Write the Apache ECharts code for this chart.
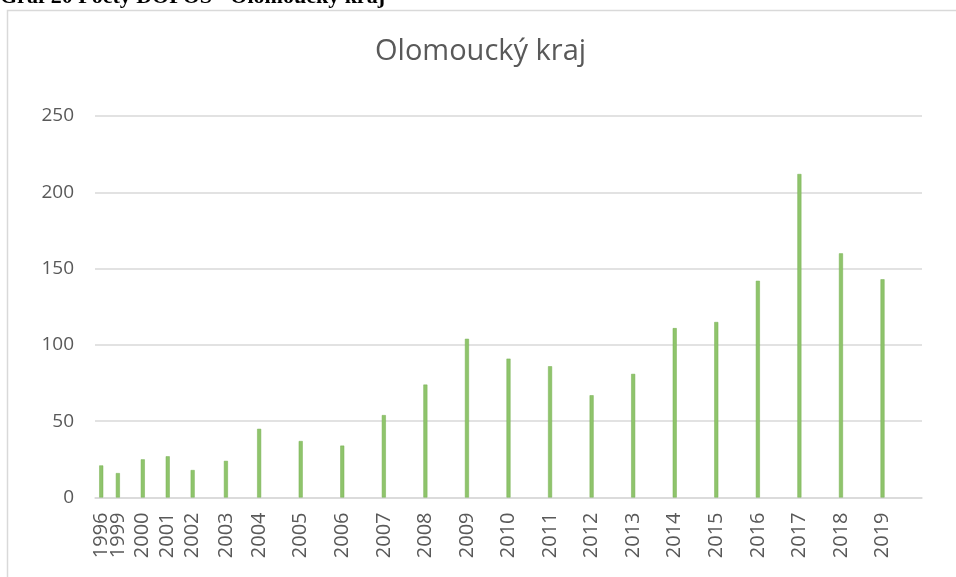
<!DOCTYPE html>
<html>
<head>
<meta charset="utf-8">
<script src="https://cdn.jsdelivr.net/npm/echarts@6/dist/echarts.min.js"></script>
<style>
  html, body { margin: 0; padding: 0; background: #fff; }
  #chart { width: 956px; height: 577px; }
</style>
</head>
<body>
<div id="chart"></div>
<script>
// years as shown on the axis (the source spaces the early ones tighter)
const years = ['1996', '1999', '2000', '2001', '2002', '2003', '2004', '2005', '2006', '2007',
  '2008', '2009', '2010', '2011', '2012', '2013', '2014', '2015', '2016', '2017', '2018', '2019']
// slot position of each year on the category scale
const slots = [0, 0.4, 1, 1.6, 2.2, 3, 3.8, 4.8, 5.8, 6.8,
  7.8, 8.8, 9.8, 10.8, 11.8, 12.8, 13.8, 14.8, 15.8, 16.8, 17.8, 18.8]
const counts = [21, 16, 25, 27, 18, 24, 45, 37, 34, 54,
  74, 104, 91, 86, 67, 81, 111, 115, 142, 212, 160, 143]
const yTicks = [0, 50, 100, 150, 200, 250]
const xMin = -0.15
const xMax = 19.75

const chart = echarts.init(document.getElementById('chart'))

const labelFor = (v) => {
  const i = slots.findIndex(s => Math.abs(s - v) < 1e-6)
  return i >= 0 ? years[i] : ''
}

const option = {
  backgroundColor: '#fff',
  animation: false,
  title: {
    text: 'Olomoucký kraj',
    left: 370,
    top: 32,
    textStyle: {
      fontFamily: 'Open Sans',
      fontWeight: 'normal',
      fontSize: 29,
      color: '#595959',
    },
  },
  graphic: [
    {
      type: 'rect',
      shape: { x: 7.5, y: 10.5, width: 1000, height: 1000 },
      style: { fill: 'none', stroke: '#d9d9d9', lineWidth: 1.5 },
      silent: true,
    },
    {
      type: 'text',
      left: 0,
      top: -14,
      style: {
        text: 'Graf 20 Počty DOPOS - Olomoucký kraj',
        font: 'bold 22px "Liberation Serif"',
        fill: '#000',
      },
    },
  ],
  grid: {
    left: 95,
    right: 34,
    top: 116,
    bottom: 79.5,
  },
  xAxis: {
    type: 'value',
    min: xMin,
    max: xMax,
    axisLine: { show: true, onZero: false, lineStyle: { color: '#d9d9d9', width: 1.5 } },
    axisTick: { show: false },
    splitLine: { show: false },
    axisLabel: {
      // empty label at the axis start so the min-label overlap check leaves 1996/1999 alone
      customValues: [xMin].concat(slots),
      hideOverlap: false,
      rotate: 90,
      margin: 15,
      fontFamily: 'Open Sans',
      fontSize: 20,
      color: '#595959',
      formatter: labelFor,
    },
  },
  yAxis: {
    type: 'value',
    min: yTicks[0],
    max: yTicks[yTicks.length - 1],
    interval: 50,
    axisLine: { show: false },
    axisTick: { show: false },
    splitLine: { lineStyle: { color: '#d9d9d9', width: 1.5 } },
    axisLabel: {
      margin: 21,
      fontFamily: 'Open Sans',
      fontSize: 19,
      color: '#595959',
    },
  },
  series: [
    {
      type: 'bar',
      barWidth: 4,
      data: slots.map((s, i) => [s, counts[i]]),
      itemStyle: { color: '#8fc46c', borderColor: '#76b051', borderWidth: 0.5 },
    },
  ],
}

chart.setOption(option)
</script>
</body>
</html>
